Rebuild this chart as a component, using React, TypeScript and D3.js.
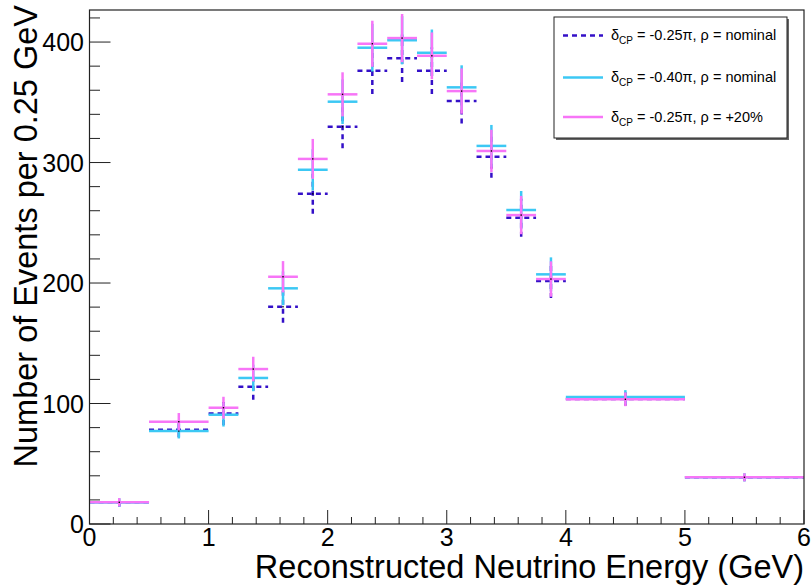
import React from "react";
import * as d3 from "d3";

const binEdges = [0, 0.5, 1, 1.25, 1.5, 1.75, 2, 2.25, 2.5, 2.75, 3, 3.25, 3.5, 3.75, 4, 5, 6];

const nominal025 = [18.0, 78.3, 91.8, 114.0, 180.3, 274.0, 329.7, 376.2, 386.5, 376.2, 351.0, 304.8, 254.2, 201.7, 103.7, 38.8];
const nominal025Err = [3.5, 6.4, 9.6, 10.9, 13.3, 16.6, 17.9, 19.3, 19.7, 19.4, 18.6, 17.5, 15.8, 14.2, 5.6, 3.3];

const nominal040 = [17.8, 77.2, 90.7, 121.2, 195.6, 294.0, 350.5, 395.3, 401.5, 391.1, 362.4, 313.8, 260.6, 207.2, 105.4, 38.8];
const nominal040Err = [3.5, 6.2, 9.8, 11.0, 14.0, 17.1, 18.5, 19.8, 20.0, 19.3, 18.3, 17.4, 15.8, 14.1, 5.7, 3.3];

const rho20 = [18.0, 84.9, 96.5, 128.6, 205.2, 303.0, 356.6, 398.6, 403.3, 388.6, 359.3, 309.6, 256.4, 203.3, 103.5, 38.8];
const rho20Err = [3.5, 7.2, 9.1, 10.2, 13.0, 16.6, 18.3, 19.1, 20.0, 19.4, 18.8, 17.6, 15.9, 14.7, 5.7, 3.3];

const xTicks = [0, 1, 2, 3, 4, 5, 6];
const yTicks = [0, 100, 200, 300, 400];

const legendLabels = [
  "-0.25\u03c0, \u03c1 = nominal",
  "-0.40\u03c0, \u03c1 = nominal",
  "-0.25\u03c0, \u03c1 = +20%",
];

const W = 812;
const H = 586;
const left = 89.5;
const right = 804;
const top = 10;
const bottom = 524;

const FONT = "'Liberation Sans', Arial, Helvetica, sans-serif";

type Series = { vals: number[]; errs: number[]; color: string; dash?: string };

export default function App() {
  const x = d3.scaleLinear().domain([0, 6]).range([left, right]);
  const y = d3.scaleLinear().domain([0, 426.6]).range([bottom, top]);

  const dashed: Series = { vals: nominal025, errs: nominal025Err, color: "#3410c8", dash: "5,4" };
  const cyan: Series = { vals: nominal040, errs: nominal040Err, color: "#3cc8f4" };
  const magenta: Series = { vals: rho20, errs: rho20Err, color: "#f775f7" };
  const series: Series[] = [dashed, cyan, magenta];
  const legendSeries = [dashed, cyan, magenta];
  const legendY = [35.5, 77.5, 117];

  const xMinor = d3.range(0, 6.0001, 0.2);
  const yMinor = d3.range(0, 426, 20);

  return (
    <svg width={W} height={H} style={{ position: "absolute", left: 0, top: 0, background: "#fff" }}>
      <rect x={0} y={0} width={W} height={H} fill="#fff" />
      {series.map((s, si) => (
        <g key={si}>
          {s.vals.map((v, i) => {
            const x0 = x(binEdges[i]);
            const x1 = x(binEdges[i + 1]);
            const xc = x((binEdges[i] + binEdges[i + 1]) / 2);
            return (
              <g key={i}>
                <line x1={x0} x2={x1} y1={y(v)} y2={y(v)} stroke={s.color} strokeWidth={2.5} strokeDasharray={s.dash} />
                <line x1={xc} x2={xc} y1={y(v - s.errs[i])} y2={y(v + s.errs[i])} stroke={s.color} strokeWidth={2.5} strokeDasharray={s.dash} />
                <rect x={xc - 0.7} y={y(v) - 0.7} width={1.4} height={1.4} fill="#000" />
              </g>
            );
          })}
        </g>
      ))}
      <rect x={left} y={top} width={right - left} height={bottom - top} fill="none" stroke="#222" strokeWidth={1.2} />
      {xMinor.map((t, i) => {
        const major = Math.abs(t - Math.round(t)) < 1e-6;
        return (
          <line key={"xm" + i} x1={x(t)} x2={x(t)} y1={bottom} y2={bottom - (major ? 14 : 7)} stroke="#222" strokeWidth={1} />
        );
      })}
      {xTicks.map((t) => (
        <text key={"xt" + t} x={x(t)} y={546} textAnchor="middle" fontFamily={FONT} fontSize={25} fill="#000">
          {t}
        </text>
      ))}
      {yMinor.map((t, i) => {
        const major = t % 100 === 0;
        return (
          <line key={"ym" + i} x1={left} x2={left + (major ? 21 : 10.5)} y1={y(t)} y2={y(t)} stroke="#222" strokeWidth={1} />
        );
      })}
      {yTicks.map((t) => (
        <text key={"yt" + t} x={84} y={y(t) + 9} textAnchor="end" fontFamily={FONT} fontSize={25} fill="#000">
          {t}
        </text>
      ))}
      <text x={804} y={578} textAnchor="end" fontFamily={FONT} fontSize={32.5} fill="#000">
        Reconstructed Neutrino Energy (GeV)
      </text>
      <text transform={`translate(37,5) rotate(-90)`} textAnchor="end" fontFamily={FONT} fontSize={32.5} fill="#000">
        Number of Events per 0.25 GeV
      </text>
      <rect x={556} y={19} width={233} height={121} fill="#666" />
      <rect x={554} y={17} width={233} height={121} fill="#fff" stroke="#222" strokeWidth={1} />
      {legendSeries.map((s, i) => {
        const ly = legendY[i];
        return (
          <g key={"lg" + i}>
            <line x1={563} x2={603} y1={ly} y2={ly} stroke={s.color} strokeWidth={2.5} strokeDasharray={s.dash} />
            <text x={611} y={ly + 4.5} fontFamily={FONT} fontSize={14.5} fill="#000">
              {"\u03b4"}
              <tspan fontSize={10} dy={4}>CP</tspan>
              <tspan dy={-4}>{" = " + legendLabels[i]}</tspan>
            </text>
          </g>
        );
      })}
    </svg>
  );
}
